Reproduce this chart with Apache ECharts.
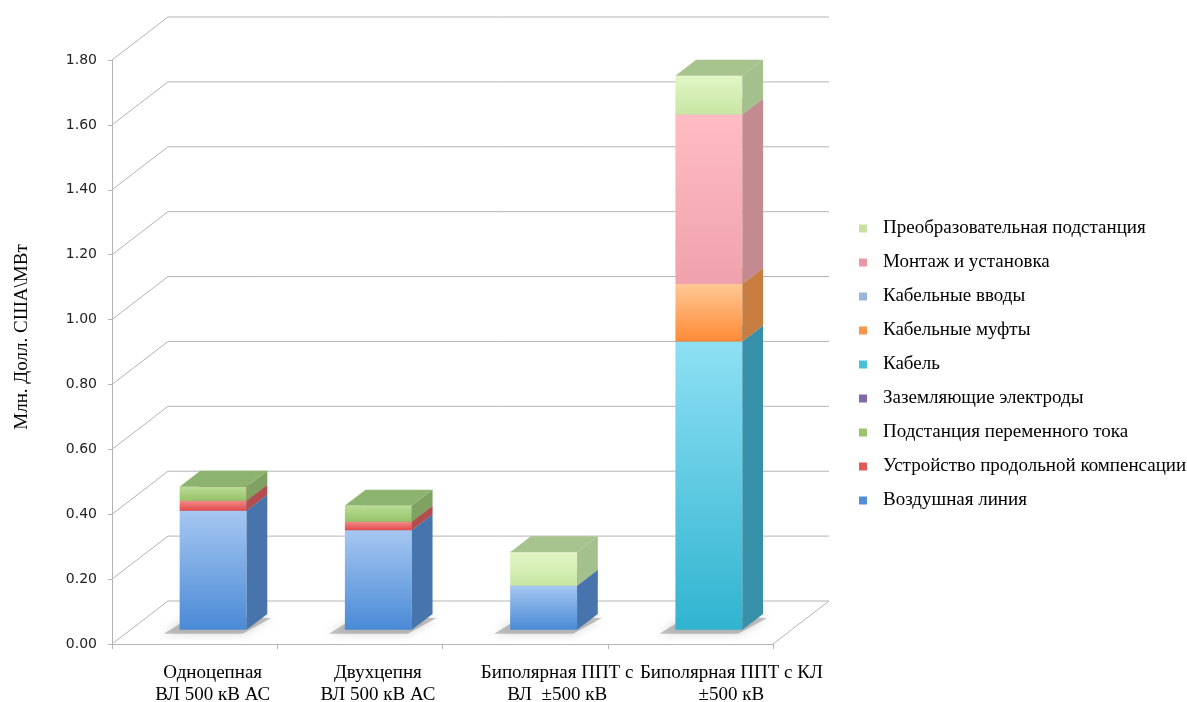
<!DOCTYPE html>
<html>
<head>
<meta charset="utf-8">
<script src="https://cdn.jsdelivr.net/npm/echarts@6/dist/echarts.min.js"></script>
<style>
  html, body { margin: 0; padding: 0; background: #fff; overflow: hidden; }
  #chart { width: 1187px; height: 702px; }
</style>
</head>
<body>
<div id="chart"></div>
<script>
// ---------- DATA ----------
const categories = [
  'Одноцепная\nВЛ 500 кВ АС',
  'Двухцепня\nВЛ 500 кВ АС',
  'Биполярная ППТ с\nВЛ  ±500 кВ',
  'Биполярная ППТ с КЛ\n±500 кВ'
];
const yTicks = [0, 0.2, 0.4, 0.6, 0.8, 1.0, 1.2, 1.4, 1.6, 1.8];

const overheadLine     = [0.367, 0.307, 0.136, 0];     // Воздушная линия
const seriesCompens    = [0.031, 0.026, 0,     0];     // Устройство продольной компенсации
const acSubstation     = [0.043, 0.050, 0,     0];     // Подстанция переменного тока
const groundElectrodes = [0,     0,     0,     0];     // Заземляющие электроды
const cable            = [0,     0,     0,     0.889]; // Кабель
const cableJoints      = [0,     0,     0,     0.177]; // Кабельные муфты
const cableEntries     = [0,     0,     0,     0];     // Кабельные вводы
const installation     = [0,     0,     0,     0.522]; // Монтаж и установка
const converterStation = [0,     0,     0.103, 0.120]; // Преобразовательная подстанция

const seriesNames = [
  'Воздушная линия',
  'Устройство продольной компенсации',
  'Подстанция переменного тока',
  'Заземляющие электроды',
  'Кабель',
  'Кабельные муфты',
  'Кабельные вводы',
  'Монтаж и установка',
  'Преобразовательная подстанция'
];
const seriesValues = [overheadLine, seriesCompens, acSubstation, groundElectrodes,
  cable, cableJoints, cableEntries, installation, converterStation];

// ---------- STYLE ----------
const styles = [
  { legend: '#4F8ED8', ftop: '#A6C7F1', fbot: '#4A8AD6', side: '#4774AC', top: '#6F98CC' },
  { legend: '#E05A5A', ftop: '#F48A8A', fbot: '#E04A4A', side: '#B24E4E', top: '#C86666' },
  { legend: '#9CC46A', ftop: '#BADC96', fbot: '#96C468', side: '#7FA262', top: '#8CB46E' },
  { legend: '#8468AA', ftop: '#A890CC', fbot: '#7A5EA4', side: '#654E88', top: '#7A64A0' },
  { legend: '#4AC0D8', ftop: '#8EE0F4', fbot: '#30B4D0', side: '#3790AA', top: '#5AB2C8' },
  { legend: '#F7954A', ftop: '#FFC894', fbot: '#FF8A38', side: '#C87E40', top: '#E09A60' },
  { legend: '#98B6DC', ftop: '#C4D8F2', fbot: '#92B2DA', side: '#7890B0', top: '#90A8C8' },
  { legend: '#EC98A4', ftop: '#FFBCC2', fbot: '#F0A2AC', side: '#C48A92', top: '#D09AA0' },
  { legend: '#C8E0A4', ftop: '#E2F6C6', fbot: '#C8E6A4', side: '#A4C08C', top: '#A8C48E' }
];
const labelShift = [36, 36, 64, 82];   // left padding (px) of each category label

const DX = 56, DY = -43;      // depth of the 3D box (floor/back wall offset)
const F0 = 0.33, F1 = 0.70;   // bar depth position (fraction of total depth)
const BAR_W = 0.405;          // bar width as fraction of category band
const GRID_COLOR = '#B4B4B4';

// ---------- BUILD ----------
const chart = echarts.init(document.getElementById('chart'));

function renderGrid(params, api) {
  const v = api.value(0);
  const cs = params.coordSys;
  const y = api.coord([0, v])[1];
  const x0 = cs.x, x1 = cs.x + cs.width;
  const children = [{
    type: 'polyline',
    shape: { points: [[x0, y], [x0 + DX, y + DY], [x1 + DX, y + DY]] },
    style: { stroke: GRID_COLOR, lineWidth: 1, fill: null }
  }];
  if (v === 0) {
    children.push({
      type: 'line',
      shape: { x1: x1, y1: y, x2: x1 + DX, y2: y + DY },
      style: { stroke: GRID_COLOR, lineWidth: 1 }
    });
  }
  return { type: 'group', children: children };
}

function makeBoxRender(st) {
  return function (params, api) {
    const cat = api.value(0), base = api.value(1), val = api.value(2);
    if (!(val > 0)) return null;
    const p0 = api.coord([cat, base]);
    const p1 = api.coord([cat, base + val]);
    const bw = api.size([1, 0])[0] * BAR_W;
    const fx = DX * F0, fy = DY * F0;
    const sx = DX * (F1 - F0), sy = DY * (F1 - F0);
    const xl = p0[0] - bw / 2 + fx, xr = xl + bw;
    const yb = p0[1] + fy, yt = p1[1] + fy;
    const children = [];
    if (base === 0) {
      children.push({
        type: 'polygon',
        shape: { points: [[xl - 16, yb + 4], [xr - 4, yb + 4], [xr + sx + 4, yb + sy + 4], [xl + sx - 8, yb + sy + 2]] },
        style: { fill: 'rgba(110,110,110,0.4)', shadowBlur: 10, shadowColor: 'rgba(110,110,110,0.7)' }
      });
    }
    children.push({
      type: 'rect',
      shape: { x: xl, y: yt, width: bw, height: yb - yt },
      style: {
        fill: { type: 'linear', x: 0, y: 0, x2: 0, y2: 1,
          colorStops: [{ offset: 0, color: st.ftop }, { offset: 1, color: st.fbot }] }
      }
    });
    children.push({
      type: 'polygon',
      shape: { points: [[xr, yb], [xr + sx, yb + sy], [xr + sx, yt + sy], [xr, yt]] },
      style: { fill: st.side }
    });
    children.push({
      type: 'polygon',
      shape: { points: [[xl, yt], [xr, yt], [xr + sx, yt + sy], [xl + sx, yt + sy]] },
      style: { fill: st.top }
    });
    return { type: 'group', children: children };
  };
}

const series = [{
  type: 'custom',
  name: '__grid',
  silent: true,
  z: 1,
  renderItem: renderGrid,
  encode: { x: -1, y: 0 },
  data: yTicks.map(v => [v])
}];

const cumulative = categories.map(() => 0);
seriesNames.forEach((name, si) => {
  const st = styles[si];
  const data = seriesValues[si].map((v, ci) => {
    const item = [ci, cumulative[ci], v];
    cumulative[ci] += v;
    return item;
  });
  series.push({
    type: 'custom',
    name: name,
    silent: true,
    z: 2,
    itemStyle: { color: st.legend },
    renderItem: makeBoxRender(st),
    encode: { x: 0, y: [1, 2] },
    data: data
  });
});

const labelFont = { fontFamily: 'Liberation Serif', fontSize: 19, lineHeight: 22, color: '#000' };
const rich = {};
labelShift.forEach((p, i) => {
  rich['p' + i] = Object.assign({ padding: [0, 0, 0, p] }, labelFont);
});

const option = {
  animation: false,
  backgroundColor: '#ffffff',
  grid: { left: 112, top: 60, width: 661, height: 584, containLabel: false, outerBoundsMode: 'none' },
  legend: {
    orient: 'vertical',
    left: 854,
    top: 214,
    data: seriesNames.slice().reverse(),
    icon: 'rect',
    itemWidth: 8,
    itemHeight: 8,
    itemGap: 15,
    selectedMode: false,
    textStyle: {
      fontFamily: 'Liberation Serif',
      fontSize: 19,
      lineHeight: 19,
      color: '#000',
      padding: [0, 0, 0, 11]
    }
  },
  xAxis: {
    type: 'category',
    data: categories,
    axisLine: { show: true, lineStyle: { color: GRID_COLOR } },
    axisTick: { show: true, length: 5, lineStyle: { color: GRID_COLOR } },
    axisLabel: Object.assign({
      margin: 18,
      interval: 0,
      formatter: (value, index) => value.split('\n').map(l => '{p' + index + '|' + l + '}').join('\n'),
      rich: rich
    }, labelFont),
    splitLine: { show: false }
  },
  yAxis: {
    type: 'value',
    min: 0,
    max: 1.8,
    interval: 0.2,
    name: 'Млн. Долл. США\\МВт',
    nameLocation: 'middle',
    nameRotate: 90,
    nameGap: 80,
    nameTextStyle: { fontFamily: 'Liberation Serif', fontSize: 19, color: '#000', padding: [0, 0, 0, 30] },
    axisLine: { show: true, lineStyle: { color: GRID_COLOR } },
    axisTick: { show: true, length: 4, lineStyle: { color: GRID_COLOR } },
    axisLabel: {
      fontFamily: 'DejaVu Sans',
      fontSize: 14,
      color: '#222',
      margin: 15,
      formatter: v => v.toFixed(2)
    },
    splitLine: { show: false }
  },
  series: series
};

chart.setOption(option);
</script>
</body>
</html>
